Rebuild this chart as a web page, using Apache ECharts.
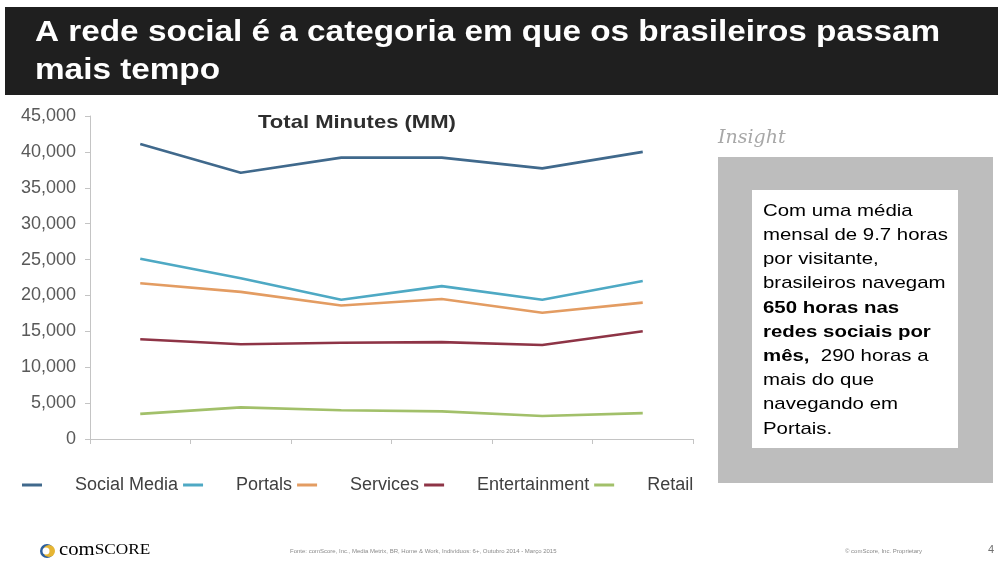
<!DOCTYPE html>
<html>
<head>
<meta charset="utf-8">
<script src="https://cdn.jsdelivr.net/npm/echarts@6/dist/echarts.min.js"></script>
<style>
html,body{margin:0;padding:0;background:#fff;}
#chart{width:998px;height:561px;}
</style>
</head>
<body>
<div id="chart"></div>
<script>
// Months (Out 2014 - Mar 2015); labels are not shown in the reference
const categories = ["Out 2014", "Nov 2014", "Dez 2014", "Jan 2015", "Fev 2015", "Mar 2015"];
const seriesNames = ["Social Media", "Portals", "Services", "Entertainment", "Retail"];
const socialMedia = [41100, 37100, 39200, 39200, 37700, 40000];
const portals = [25100, 22400, 19400, 21300, 19400, 22000];
const services = [21700, 20500, 18600, 19500, 17600, 19000];
const entertainment = [13900, 13200, 13400, 13500, 13100, 15000];
const retail = [3500, 4400, 4000, 3850, 3200, 3600];
const yTicks = [0, 5000, 10000, 15000, 20000, 25000, 30000, 35000, 40000, 45000];
const colors = ["#40698c", "#4ea9c4", "#e39c62", "#8e3446", "#a2c06a"];

const allValues = [socialMedia, portals, services, entertainment, retail];

const chart = echarts.init(document.getElementById('chart'), null, {renderer: 'canvas'});

const FONT = '"Liberation Sans", Arial, sans-serif';
const insightRich = {
  n: {fontSize: 17, fontFamily: 'Liberation Sans, Arial, sans-serif', color: '#3c3c3c', lineHeight: 24.2},
  b: {fontSize: 17, fontFamily: 'Liberation Sans, Arial, sans-serif', color: '#2c2c2c', fontWeight: 'bold', lineHeight: 24.2}
};
const insightText = [
  '{n|Com uma média}',
  '{n|mensal de 9.7 horas}',
  '{n|por visitante,}',
  '{n|brasileiros navegam}',
  '{b|650 horas nas}',
  '{b|redes sociais por}',
  '{b|mês,}{n|  290 horas a}',
  '{n|mais do que}',
  '{n|navegando em}',
  '{n|Portais.}'
].join('\n');

const option = {
  backgroundColor: '#ffffff',
  animation: false,
  color: colors,
  grid: {left: 90, top: 116, width: 603, height: 323, containLabel: false},
  xAxis: {
    type: 'category',
    data: categories,
    boundaryGap: true,
    axisLine: {show: true, lineStyle: {color: '#c4c4c4', width: 1}},
    axisTick: {show: true, length: 5, interval: 0, lineStyle: {color: '#c4c4c4'}},
    axisLabel: {show: false},
    splitLine: {show: false}
  },
  yAxis: {
    type: 'value',
    min: yTicks[0],
    max: yTicks[yTicks.length - 1],
    interval: yTicks[1] - yTicks[0],
    axisLine: {show: true, lineStyle: {color: '#c4c4c4', width: 1}},
    axisTick: {show: true, length: 5, lineStyle: {color: '#c4c4c4'}},
    splitLine: {show: false},
    axisLabel: {
      margin: 14,
      fontSize: 18,
      color: '#595959',
      fontFamily: 'Liberation Sans, Arial, sans-serif',
      formatter: v => v.toLocaleString('en-US')
    }
  },
  legend: {
    left: 17,
    top: 471,
    itemWidth: 20,
    itemHeight: 3,
    itemGap: 5,
    icon: 'rect',
    textStyle: {fontSize: 18, color: '#404040', fontFamily: 'Liberation Sans, Arial, sans-serif', padding: [0, 0, 0, 28]},
    data: seriesNames
  },
  series: seriesNames.map((name, i) => ({
    name: name,
    type: 'line',
    data: allValues[i],
    showSymbol: false,
    symbol: 'none',
    lineStyle: {width: 2.6, color: colors[i]},
    itemStyle: {color: colors[i]}
  })),
  graphic: [
    // title bar
    {type: 'rect', x: 5, y: 7, shape: {width: 993, height: 88}, style: {fill: '#1f1f1f'}, z: 1},
    {type: 'text', x: 35, y: 18, scaleX: 1.11, z: 2,
      style: {text: 'A rede social é a categoria em que os brasileiros passam', fill: '#ffffff',
        font: 'bold 30px ' + FONT, verticalAlign: 'top', align: 'left'}},
    {type: 'text', x: 35, y: 56, scaleX: 1.11, z: 2,
      style: {text: 'mais tempo', fill: '#ffffff',
        font: 'bold 30px ' + FONT, verticalAlign: 'top', align: 'left'}},
    // chart title
    {type: 'text', x: 258, y: 113, scaleX: 1.16, z: 5,
      style: {text: 'Total Minutes (MM)', fill: '#2e2e2e',
        font: 'bold 19px ' + FONT, verticalAlign: 'top', align: 'left'}},
    // insight
    {type: 'text', x: 718, y: 129, z: 5,
      style: {text: 'Insight', fill: '#a8a8a8',
        font: 'italic 19px "DejaVu Serif", "Liberation Serif", serif', verticalAlign: 'top', align: 'left'}},
    {type: 'rect', x: 718, y: 157, shape: {width: 275, height: 326}, style: {fill: '#bdbdbd'}, z: 3},
    {type: 'rect', x: 752, y: 190, shape: {width: 206, height: 258}, style: {fill: '#ffffff'}, z: 4},
    {type: 'text', x: 763, y: 199, scaleX: 1.2, z: 5,
      style: {text: insightText, rich: insightRich, verticalAlign: 'top', align: 'left'}},
    // footer logo
    {type: 'circle', shape: {cx: 47, cy: 551, r: 7}, style: {fill: '#2c5f9e'}, z: 5},
    {type: 'circle', shape: {cx: 49, cy: 551, r: 6}, style: {fill: '#e6b533'}, z: 6},
    {type: 'circle', shape: {cx: 46, cy: 551, r: 3.5}, style: {fill: '#ffffff'}, z: 7},
    {type: 'text', x: 59, y: 541, scaleX: 1.15, z: 5,
      style: {text: '{a|com}{b|SCORE}', verticalAlign: 'top', align: 'left', rich: {
        a: {fontSize: 18, fontFamily: 'Liberation Serif, serif', color: '#707070'},
        b: {fontSize: 15, fontFamily: 'Liberation Serif, serif', color: '#707070'}}}},
    {type: 'text', x: 290, y: 548, z: 5,
      style: {text: 'Fonte: comScore, Inc., Media Metrix, BR, Home & Work, Indivíduos: 6+, Outubro 2014 - Março 2015',
        fill: '#8a8a8a', font: '6px ' + FONT, verticalAlign: 'top', align: 'left'}},
    {type: 'text', x: 845, y: 548, z: 5,
      style: {text: '© comScore, Inc. Proprietary', fill: '#8a8a8a', font: '6px ' + FONT, verticalAlign: 'top', align: 'left'}},
    {type: 'text', x: 988, y: 544, z: 5,
      style: {text: '4', fill: '#707070', font: '11px ' + FONT, verticalAlign: 'top', align: 'left'}}
  ]
};
chart.setOption(option);
</script>
</body>
</html>
